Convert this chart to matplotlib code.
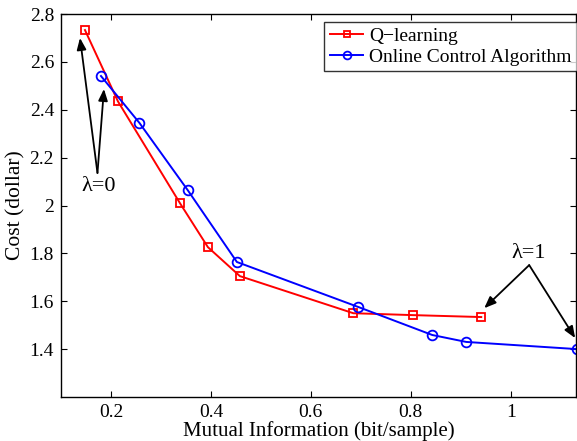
import matplotlib
matplotlib.use("Agg")
import matplotlib.pyplot as plt

q_x = [0.148, 0.214, 0.338, 0.394, 0.458, 0.685, 0.805, 0.941]
q_y = [2.733, 2.435, 2.010, 1.826, 1.705, 1.550, 1.542, 1.534]
o_x = [0.180, 0.257, 0.354, 0.452, 0.695, 0.843, 0.911, 1.133]
o_y = [2.541, 2.345, 2.063, 1.764, 1.576, 1.459, 1.430, 1.400]
xticks = [0.2, 0.4, 0.6, 0.8, 1.0]
xticklabels = ["0.2", "0.4", "0.6", "0.8", "1"]
yticks = [1.4, 1.6, 1.8, 2.0, 2.2, 2.4, 2.6, 2.8]
yticklabels = ["1.4", "1.6", "1.8", "2", "2.2", "2.4", "2.6", "2.8"]

plt.rcParams['font.family'] = ['Liberation Serif', 'DejaVu Serif']

fig = plt.figure(figsize=(5.77, 4.41), dpi=100)
ax = fig.add_axes([0.1057, 0.0998, 0.892, 0.8684])

ax.plot(q_x, q_y, color='red', lw=1.4, marker='s', ms=6, mfc='none', mec='red', mew=1.3, label='Q\u2212learning')
ax.plot(o_x, o_y, color='blue', lw=1.4, marker='o', ms=7, mfc='none', mec='blue', mew=1.3, label='Online Control Algorithm')

ax.set_xlim(0.1, 1.13)
ax.set_ylim(1.2, 2.8)
ax.set_xticks(xticks)
ax.set_xticklabels(xticklabels)
ax.set_yticks(yticks)
ax.set_yticklabels(yticklabels)
ax.tick_params(direction='in', top=True, right=True, labelsize=14, length=4, width=0.8, pad=5)
for s in ax.spines.values():
    s.set_linewidth(1.0)

ax.set_xlabel('Mutual Information (bit/sample)', fontsize=15, labelpad=0)
ax.set_ylabel('Cost (dollar)', fontsize=15.5, labelpad=3)

leg = ax.legend(loc='upper right', fontsize=14, frameon=True, fancybox=False,
                edgecolor='black', borderpad=0.3, handlelength=1.7, handletextpad=0.3,
                labelspacing=0.15, borderaxespad=0.0, markerscale=0.8,
                bbox_to_anchor=(1.003, 0.98))
leg.get_frame().set_linewidth(1.0)

ap = dict(arrowstyle='-|>,head_length=0.5,head_width=0.2', color='black', lw=1.3, mutation_scale=14, shrinkA=0, shrinkB=0)
ax.text(0.176, 2.081, '\u03bb=0', fontsize=16, ha='center', va='center')
ax.annotate('', xy=(0.138, 2.70), xytext=(0.173, 2.136), arrowprops=ap)
ax.annotate('', xy=(0.186, 2.487), xytext=(0.173, 2.136), arrowprops=ap)
ax.text(1.035, 1.80, '\u03bb=1', fontsize=16, ha='center', va='center')
ax.annotate('', xy=(0.947, 1.571), xytext=(1.037, 1.751), arrowprops=ap)
ax.annotate('', xy=(1.129, 1.446), xytext=(1.037, 1.751), arrowprops=ap)

fig.savefig('out.png', dpi=100)
